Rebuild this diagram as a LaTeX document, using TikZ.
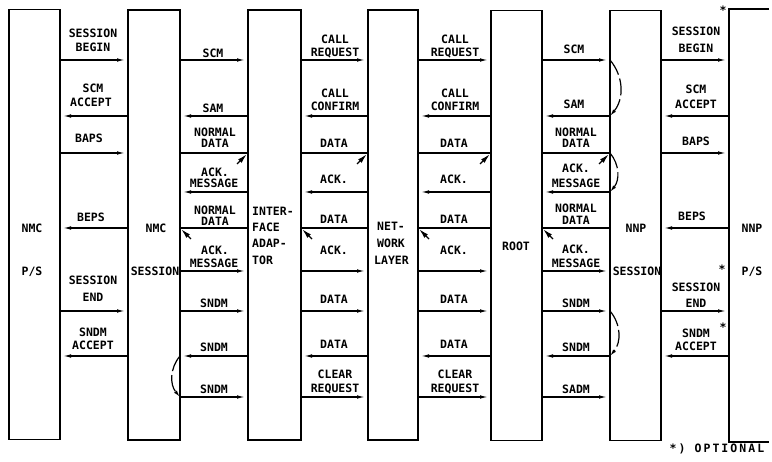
\documentclass[tikz,border=0pt]{standalone}
\usepackage{fontspec}
\newfontfamily\labfont{DejaVu Sans Mono}
\newfontfamily\notefont{DejaVu Sans Mono}[LetterSpace=18]
\usetikzlibrary{arrows.meta,calc}
\tikzset{
  col/.style={draw, line width=1.8pt, inner sep=0pt, outer sep=0pt, minimum width=51pt, minimum height=430pt},
  boxedge/.style={line width=1.8pt},
  msg/.style={line width=1.2pt, shorten >=3pt, -{Latex[length=8pt,width=3.6pt]}},
  plain/.style={line width=1.2pt},
  slant/.style={line width=1.4pt, -{Latex[length=10pt,width=5pt]}},
  curv/.style={line width=1.2pt, dash pattern=on 17pt off 4pt, -{Latex[length=7pt,width=3.6pt]}},
  lbl/.style={font={\labfont\bfseries\fontsize{11.5}{13}\selectfont}, inner sep=0pt, text height=8.4pt, text depth=0pt, anchor=center},
  note/.style={font={\notefont\bfseries\fontsize{11.5}{13}\selectfont}, inner sep=0pt, text height=8.4pt, text depth=0pt, anchor=center}
}
\newcommand\mylab[4]{\node[lbl] (#1) at (#2,#3) {#4};}
\newcommand\msgR[3]{\draw[msg] (#1.east |- #3) -- (#2.west |- #3);}
\newcommand\msgL[3]{\draw[msg] (#2.west |- #3) -- (#1.east |- #3);}
\newcommand\slantR[3]{\draw[plain] (#1.east |- #3) -- (#2.west |- #3);
  \draw[slant] ($(#2.west |- #3)+(-11,11)$) -- ($(#2.west |- #3)+(-1,1)$);}
\newcommand\slantL[3]{\draw[plain] (#1.east |- #3) -- (#2.west |- #3);
  \draw[slant] ($(#1.east |- #3)+(11,11)$) -- ($(#1.east |- #3)+(1,1)$);}
\begin{document}
\begin{tikzpicture}[x=1pt,y=-1pt]
\useasboundingbox (0,0) rectangle (772,462);
% columns
\node[col, minimum width=51pt] (psL) at (34.5,224.5) {};
\node[col, minimum width=52pt] (nmcs) at (154,225) {};
\node[col, minimum width=53pt] (ia) at (274.5,225) {};
\node[col, minimum width=50pt] (nl) at (393,225) {};
\node[col, minimum width=51pt] (root) at (516.5,225.5) {};
\node[col, minimum width=51pt] (nnps) at (635.5,225.5) {};
\node[col, draw=none, minimum width=51pt, minimum height=433pt] (nnpps) at (754.5,225.5) {};
\coordinate (rightend) at (769,0);
\draw[boxedge] (nnpps.north west -| rightend) -- (nnpps.north west) -- (nnpps.south west) -- (nnpps.south west -| rightend);
% rows
\coordinate (r1) at (0,60);
\coordinate (r2) at (0,116);
\coordinate (r3) at (0,153);
\coordinate (r4) at (0,192);
\coordinate (r5) at (0,228);
\coordinate (r6) at (0,271);
\coordinate (r7) at (0,311);
\coordinate (r8) at (0,356);
\coordinate (r9) at (0,397);
% column labels
\mylab{c1a}{32}{228}{NMC}
\mylab{c1b}{32}{271}{P/S}
\mylab{c2a}{156}{228}{NMC}
\mylab{c2b}{155}{271}{SESSION}
\node[lbl, anchor=west] (c3a) at (252,211) {INTER-};
\node[lbl, anchor=west] (c3b) at (252,227) {FACE};
\node[lbl, anchor=west] (c3c) at (252,243) {ADAP-};
\node[lbl, anchor=west] (c3d) at (252,260) {TOR};
\node[lbl, anchor=west] (c4a) at (377,226) {NET-};
\node[lbl, anchor=west] (c4b) at (377,243) {WORK};
\node[lbl, anchor=west] (c4c) at (374,260) {LAYER};
\mylab{c5a}{516}{246}{ROOT}
\mylab{c6a}{636}{228}{NNP}
\mylab{c6b}{637}{271}{SESSION}
\mylab{c7a}{752}{228}{NNP}
\mylab{c7b}{752}{271}{P/S}
% gap A
\msgR{psL}{nmcs}{r1} \msgL{psL}{nmcs}{r2} \msgR{psL}{nmcs}{r3}
\msgL{psL}{nmcs}{r5} \msgR{psL}{nmcs}{r7} \msgL{psL}{nmcs}{r8}
\mylab{a1}{93}{33}{SESSION} \mylab{a2}{93}{47}{BEGIN}
\mylab{a3}{93}{88}{SCM} \mylab{a4}{91}{102}{ACCEPT}
\mylab{a5}{89}{138}{BAPS}
\mylab{a6}{91}{217}{BEPS}
\mylab{a7}{93}{280}{SESSION} \mylab{a8}{93}{297}{END}
\mylab{a9}{93}{332}{SNDM} \mylab{a10}{93}{345}{ACCEPT}
% gap B
\msgR{nmcs}{ia}{r1} \msgL{nmcs}{ia}{r2} \slantR{nmcs}{ia}{r3}
\msgL{nmcs}{ia}{r4} \slantL{nmcs}{ia}{r5} \msgR{nmcs}{ia}{r6}
\msgR{nmcs}{ia}{r7} \msgL{nmcs}{ia}{r8} \msgR{nmcs}{ia}{r9}
\draw[curv] (nmcs.east |- r8) to[bend right=40] (nmcs.east |- r9);
\mylab{b1}{213}{53}{SCM}
\mylab{b2}{213}{108}{SAM}
\mylab{b3}{215}{132}{NORMAL} \mylab{b4}{215}{143}{DATA}
\mylab{b5}{215}{172}{ACK.} \mylab{b6}{214}{183}{MESSAGE}
\mylab{b7}{215}{210}{NORMAL} \mylab{b8}{215}{221}{DATA}
\mylab{b9}{215}{250}{ACK.} \mylab{b10}{214}{263}{MESSAGE}
\mylab{b11}{214}{303}{SNDM}
\mylab{b12}{214}{347}{SNDM}
\mylab{b13}{214}{389}{SNDM}
% gap C
\msgR{ia}{nl}{r1} \msgL{ia}{nl}{r2} \slantR{ia}{nl}{r3}
\msgL{ia}{nl}{r4} \slantL{ia}{nl}{r5} \msgR{ia}{nl}{r6}
\msgR{ia}{nl}{r7} \msgL{ia}{nl}{r8} \msgR{ia}{nl}{r9}
\mylab{cc1}{335}{39}{CALL} \mylab{cc2}{335}{52}{REQUEST}
\mylab{cc3}{335}{93}{CALL} \mylab{cc4}{335}{106}{CONFIRM}
\mylab{cc5}{334}{143}{DATA}
\mylab{cc6}{334}{179}{ACK.}
\mylab{cc7}{334}{219}{DATA}
\mylab{cc8}{334}{250}{ACK.}
\mylab{cc9}{334}{299}{DATA}
\mylab{cc10}{334}{344}{DATA}
\mylab{cc11}{335}{374}{CLEAR} \mylab{cc12}{335}{388}{REQUEST}
% gap D
\msgR{nl}{root}{r1} \msgL{nl}{root}{r2} \slantR{nl}{root}{r3}
\msgL{nl}{root}{r4} \slantL{nl}{root}{r5} \msgR{nl}{root}{r6}
\msgR{nl}{root}{r7} \msgL{nl}{root}{r8} \msgR{nl}{root}{r9}
\mylab{d1}{455}{39}{CALL} \mylab{d2}{455}{52}{REQUEST}
\mylab{d3}{455}{93}{CALL} \mylab{d4}{455}{106}{CONFIRM}
\mylab{d5}{454}{143}{DATA}
\mylab{d6}{454}{179}{ACK.}
\mylab{d7}{454}{219}{DATA}
\mylab{d8}{454}{250}{ACK.}
\mylab{d9}{454}{299}{DATA}
\mylab{d10}{454}{344}{DATA}
\mylab{d11}{455}{374}{CLEAR} \mylab{d12}{455}{388}{REQUEST}
% gap E
\msgR{root}{nnps}{r1} \msgL{root}{nnps}{r2} \slantR{root}{nnps}{r3}
\msgL{root}{nnps}{r4} \slantL{root}{nnps}{r5} \msgR{root}{nnps}{r6}
\msgR{root}{nnps}{r7} \msgL{root}{nnps}{r8} \msgR{root}{nnps}{r9}
\draw[curv] (nnps.west |- r1) to[bend left=40] (nnps.west |- r2);
\draw[curv] (nnps.west |- r3) to[bend left=40] (nnps.west |- r4);
\draw[curv] (nnps.west |- r7) to[bend left=40] (nnps.west |- r8);
\mylab{e1}{574}{49}{SCM}
\mylab{e2}{574}{104}{SAM}
\mylab{e3}{576}{132}{NORMAL} \mylab{e4}{576}{143}{DATA}
\mylab{e5}{576}{168}{ACK.} \mylab{e6}{576}{183}{MESSAGE}
\mylab{e7}{576}{208}{NORMAL} \mylab{e8}{576}{220}{DATA}
\mylab{e9}{576}{249}{ACK.} \mylab{e10}{576}{263}{MESSAGE}
\mylab{e11}{576}{303}{SNDM}
\mylab{e12}{576}{347}{SNDM}
\mylab{e13}{576}{389}{SADM}
% gap F
\msgR{nnps}{nnpps}{r1} \msgL{nnps}{nnpps}{r2} \msgR{nnps}{nnpps}{r3}
\msgL{nnps}{nnpps}{r5} \msgR{nnps}{nnpps}{r7} \msgL{nnps}{nnpps}{r8}
\mylab{f1}{696}{31}{SESSION} \mylab{f2}{696}{48}{BEGIN}
\mylab{f3}{696}{89}{SCM} \mylab{f4}{696}{104}{ACCEPT}
\mylab{f5}{696}{141}{BAPS}
\mylab{f6}{692}{216}{BEPS}
\mylab{f7}{696}{287}{SESSION} \mylab{f8}{696}{303}{END}
\mylab{f9}{696}{333}{SNDM} \mylab{f10}{696}{346}{ACCEPT}
\mylab{s1}{723}{10}{*}
\mylab{s2}{722}{269}{*}
\mylab{s3}{723}{327}{*}
% footnote
\node[note] (opt) at (717,448) {*) OPTIONAL};
\end{tikzpicture}
\end{document}
